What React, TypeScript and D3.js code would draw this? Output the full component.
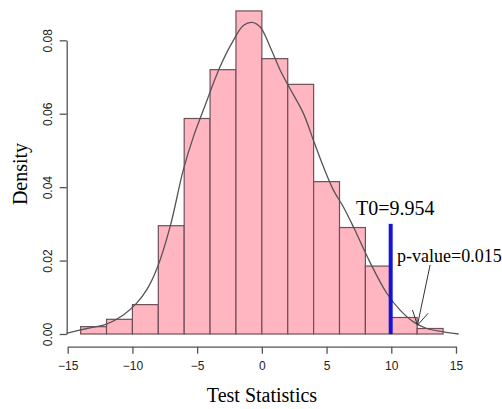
import React from "react";
import * as d3 from "d3";

// histogram bins (left edges, width 2) and their densities
const binStarts = [-14, -12, -10, -8, -6, -4, -2, 0, 2, 4, 6, 8, 10, 12];
const binDensity = [
  0.002, 0.004, 0.008, 0.0295, 0.0587, 0.072, 0.088, 0.075, 0.068, 0.0415,
  0.029, 0.0185, 0.0045, 0.0015,
];

// kernel density curve
const curveX = [
  -15.1, -13.5, -12.0, -10.7, -9.67, -8.9, -8.12, -7.09, -6.07, -5.29, -4.52,
  -3.23, -2.2, -1.43, -0.78, -0.14, 0.64, 1.41, 2.18, 3.21, 3.98, 4.75, 5.53,
  6.3, 7.07, 8.36, 9.65, 10.68, 11.71, 12.74, 14.03, 15.2,
];
const curveY = [
  0.0002, 0.0015, 0.0027, 0.0052, 0.0084, 0.012, 0.0177, 0.0292, 0.0447,
  0.0537, 0.061, 0.0728, 0.08, 0.084, 0.0849, 0.0837, 0.0782, 0.0719, 0.0668,
  0.0601, 0.0528, 0.0456, 0.0392, 0.0346, 0.0292, 0.0195, 0.0111, 0.0065,
  0.0033, 0.0015, 0.0006, 0.0,
];

const xTicks = [-15, -10, -5, 0, 5, 10, 15];
const yTicks = [0, 0.02, 0.04, 0.06, 0.08];

const T0 = 9.954;
const T0_TOP = 0.03;
const T0_LABEL = "T0=9.954";
const P_LABEL = "p-value=0.015";
// arrow from the p-value label down to the tail
const arrowFrom = [13.0, 0.0188];
const arrowTo = [12.02, 0.0024];

const W = 502;
const H = 409;

export default function App() {
  const ref = React.useRef<SVGSVGElement>(null);

  React.useEffect(() => {
    const svg = d3.select(ref.current);
    svg.selectAll("*").remove();

    const x = d3.scaleLinear().domain([-15, 15]).range([67.7, 456]);
    const y = d3.scaleLinear().domain([0, 0.08]).range([334, 40.3]);

    // bars
    svg
      .append("g")
      .selectAll("rect")
      .data(binStarts)
      .join("rect")
      .attr("x", (d) => x(d))
      .attr("y", (d, i) => y(binDensity[i]))
      .attr("width", (d) => x(d + 2) - x(d))
      .attr("height", (d, i) => y(0) - y(binDensity[i]))
      .attr("fill", "#ffb6c1")
      .attr("stroke", "#6e5058")
      .attr("stroke-width", 1.2);

    // density curve
    const line = d3
      .line<number>()
      .x((d) => x(d))
      .y((d, i) => y(curveY[i]))
      .curve(d3.curveCatmullRom);
    svg
      .append("path")
      .datum(curveX)
      .attr("fill", "none")
      .attr("stroke", "#555")
      .attr("stroke-width", 1.3)
      .attr("d", line);

    // x axis
    const gx = svg
      .append("g")
      .attr("transform", "translate(0,346.7)")
      .call(
        d3.axisBottom(x).tickValues(xTicks).tickSize(7).tickSizeOuter(0).tickPadding(8)
      );
    gx.selectAll("path, line").attr("stroke", "#555").attr("stroke-width", 1.3);
    gx.selectAll("text")
      .attr("fill", "#222")
      .style("font-family", "'Liberation Sans', Arial, sans-serif")
      .style("font-size", "12px");

    // y axis, labels rotated like R's default
    const gy = svg
      .append("g")
      .attr("transform", "translate(66.7,0)")
      .call(
        d3
          .axisLeft(y)
          .tickValues(yTicks)
          .tickFormat(d3.format(".2f"))
          .tickSize(7)
          .tickSizeOuter(0)
      );
    gy.selectAll("path, line").attr("stroke", "#555").attr("stroke-width", 1.3);
    gy.selectAll("text")
      .attr("x", 0)
      .attr("y", -15)
      .attr("dy", 0)
      .attr("transform", "rotate(-90)")
      .attr("text-anchor", "middle")
      .attr("fill", "#222")
      .style("font-family", "'Liberation Sans', Arial, sans-serif")
      .style("font-size", "12px");

    // axis titles
    svg
      .append("text")
      .attr("x", 262)
      .attr("y", 402)
      .attr("text-anchor", "middle")
      .style("font-family", "'Liberation Serif', 'Times New Roman', serif")
      .style("font-size", "20px")
      .text("Test Statistics");
    svg
      .append("text")
      .attr("transform", "translate(27,174) rotate(-90)")
      .attr("text-anchor", "middle")
      .style("font-family", "'Liberation Serif', 'Times New Roman', serif")
      .style("font-size", "20px")
      .text("Density");

    // observed statistic
    svg
      .append("line")
      .attr("x1", x(T0))
      .attr("x2", x(T0))
      .attr("y1", y(0))
      .attr("y2", y(T0_TOP))
      .attr("stroke", "#1414d8")
      .attr("stroke-width", 4);
    svg
      .append("text")
      .attr("x", 356)
      .attr("y", 215)
      .style("font-family", "'Liberation Serif', 'Times New Roman', serif")
      .style("font-size", "20px")
      .text(T0_LABEL);
    svg
      .append("text")
      .attr("x", 397)
      .attr("y", 262)
      .style("font-family", "'Liberation Serif', 'Times New Roman', serif")
      .style("font-size", "18px")
      .text(P_LABEL);

    // arrow
    const x0 = x(arrowFrom[0]),
      y0 = y(arrowFrom[1]),
      x1 = x(arrowTo[0]),
      y1 = y(arrowTo[1]);
    const ang = Math.atan2(y0 - y1, x0 - x1);
    const len = 16;
    const head = [ang + Math.PI / 6, ang - Math.PI / 6].map((a) => [
      x1 + len * Math.cos(a),
      y1 + len * Math.sin(a),
    ]);
    svg
      .append("path")
      .attr("fill", "none")
      .attr("stroke", "#333")
      .attr("stroke-width", 1)
      .attr(
        "d",
        `M${x0},${y0}L${x1},${y1}M${head[0][0]},${head[0][1]}L${x1},${y1}L${head[1][0]},${head[1][1]}`
      );
  }, []);

  return (
    <svg
      ref={ref}
      width={W}
      height={H}
      style={{ position: "absolute", left: 0, top: 0, background: "#fff" }}
    />
  );
}
